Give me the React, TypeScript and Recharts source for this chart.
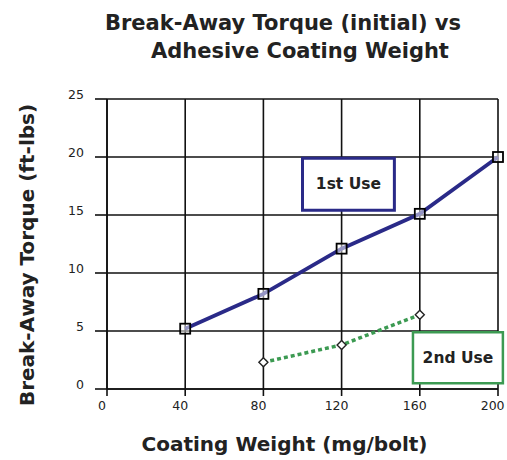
import React from "react";
import {
  LineChart,
  Line,
  XAxis,
  YAxis,
  CartesianGrid,
  ReferenceArea,
} from "recharts";

const coatingWeights = [40, 80, 120, 160, 200];
const firstUse = [5.2, 8.2, 12.1, 15.1, 20];
const secondUse = [null, 2.3, 3.8, 6.4, null];
const xTicks = [0, 40, 80, 120, 160, 200];
const yTicks = [0, 5, 10, 15, 20, 25];

const data = coatingWeights.map((w, i) => ({
  w,
  first: firstUse[i],
  second: secondUse[i],
}));

const FONT = "'DejaVu Sans', sans-serif";

const SquareDot = (props: any) => {
  const { cx, cy } = props;
  if (cx == null || cy == null) return null;
  return (
    <rect
      x={cx - 5}
      y={cy - 5}
      width={10}
      height={10}
      fill="#ffffff"
      fillOpacity={0.5}
      stroke="#000"
      strokeWidth={1.8}
    />
  );
};

const DiamondDot = (props: any) => {
  const { cx, cy, value } = props;
  if (cx == null || cy == null || value == null) return null;
  return (
    <path
      d={`M${cx},${cy - 4.5} L${cx + 4.5},${cy} L${cx},${cy + 4.5} L${cx - 4.5},${cy} Z`}
      fill="#fff"
      stroke="#222"
      strokeWidth={1.4}
    />
  );
};

const YLabel = (props: any) => {
  const { viewBox } = props;
  const cy = viewBox.y + viewBox.height / 2 + 11;
  return (
    <text
      x={27}
      y={cy}
      transform={`rotate(-90, 27, ${cy})`}
      textAnchor="middle"
      dominantBaseline="central"
      fontFamily={FONT}
      fontWeight="bold"
      fontSize={20}
      fill="#222"
    >
      Break-Away Torque (ft-lbs)
    </text>
  );
};

const XLabel = (props: any) => {
  const { viewBox } = props;
  return (
    <text
      x={viewBox.x + viewBox.width / 2 - 18}
      y={444}
      textAnchor="middle"
      dominantBaseline="central"
      fontFamily={FONT}
      fontWeight="bold"
      fontSize={20}
      fill="#222"
    >
      Coating Weight (mg/bolt)
    </text>
  );
};

const BoxLabel = (text: string) => (props: any) => {
  const { viewBox } = props;
  return (
    <text
      x={viewBox.x + viewBox.width / 2}
      y={viewBox.y + viewBox.height / 2}
      textAnchor="middle"
      dominantBaseline="central"
      fontFamily={FONT}
      fontWeight="bold"
      fontSize={15.5}
      fill="#222"
    >
      {text}
    </text>
  );
};

const titleStyle: React.CSSProperties = {
  position: "absolute",
  left: 0,
  textAlign: "center",
  fontFamily: FONT,
  fontWeight: "bold",
  fontSize: 21,
  color: "#222",
  whiteSpace: "nowrap",
  lineHeight: "28px",
};

export default function App() {
  return (
    <div style={{ position: "absolute", left: 0, top: 0, width: 507, height: 460, background: "#fff" }}>
      <div style={{ ...titleStyle, width: 566, top: 9 }}>Break-Away Torque (initial) vs</div>
      <div style={{ ...titleStyle, width: 600, top: 37 }}>Adhesive Coating Weight</div>
      <LineChart
        width={507}
        height={460}
        data={data}
        margin={{ top: 99, right: 9, bottom: 0, left: 0 }}
        style={{ position: "absolute", left: 0, top: 0 }}
      >
        <CartesianGrid stroke="#111" strokeWidth={1.6} />
        <XAxis
          dataKey="w"
          type="number"
          domain={[0, 200]}
          ticks={xTicks}
          height={71}
          axisLine={{ stroke: "#111", strokeWidth: 1.6 }}
          tickLine={{ stroke: "#111", strokeWidth: 1.6 }}
          tickSize={7}
          tickMargin={5}
          tick={{ fontFamily: FONT, fontSize: 12.5, fill: "#222", dx: -5 }}
          label={<XLabel />}
        />
        <YAxis
          type="number"
          domain={[0, 25]}
          ticks={yTicks}
          width={107}
          axisLine={{ stroke: "#111", strokeWidth: 1.6 }}
          tickLine={{ stroke: "#111", strokeWidth: 1.6 }}
          tickSize={12}
          tickMargin={11}
          tick={{ fontFamily: FONT, fontSize: 12.5, fill: "#222", dy: -4 }}
          label={<YLabel />}
        />
        <Line
          dataKey="first"
          stroke="#2a2a88"
          strokeWidth={3.8}
          dot={<SquareDot />}
          isAnimationActive={false}
        />
        <Line
          dataKey="second"
          stroke="#3c9a52"
          strokeWidth={3.5}
          strokeDasharray="4 3"
          dot={<DiamondDot />}
          connectNulls={false}
          isAnimationActive={false}
        />
        <ReferenceArea
          x1={100}
          x2={147}
          y1={15.4}
          y2={19.9}
          fill="#fff"
          fillOpacity={1}
          stroke="#2a2a88"
          strokeWidth={3}
          ifOverflow="visible"
          label={BoxLabel("1st Use")}
        />
        <ReferenceArea
          x1={156.5}
          x2={202.5}
          y1={0.5}
          y2={4.9}
          fill="#fff"
          fillOpacity={1}
          stroke="#3c9a52"
          strokeWidth={2.5}
          ifOverflow="visible"
          label={BoxLabel("2nd Use")}
        />
      </LineChart>
    </div>
  );
}
